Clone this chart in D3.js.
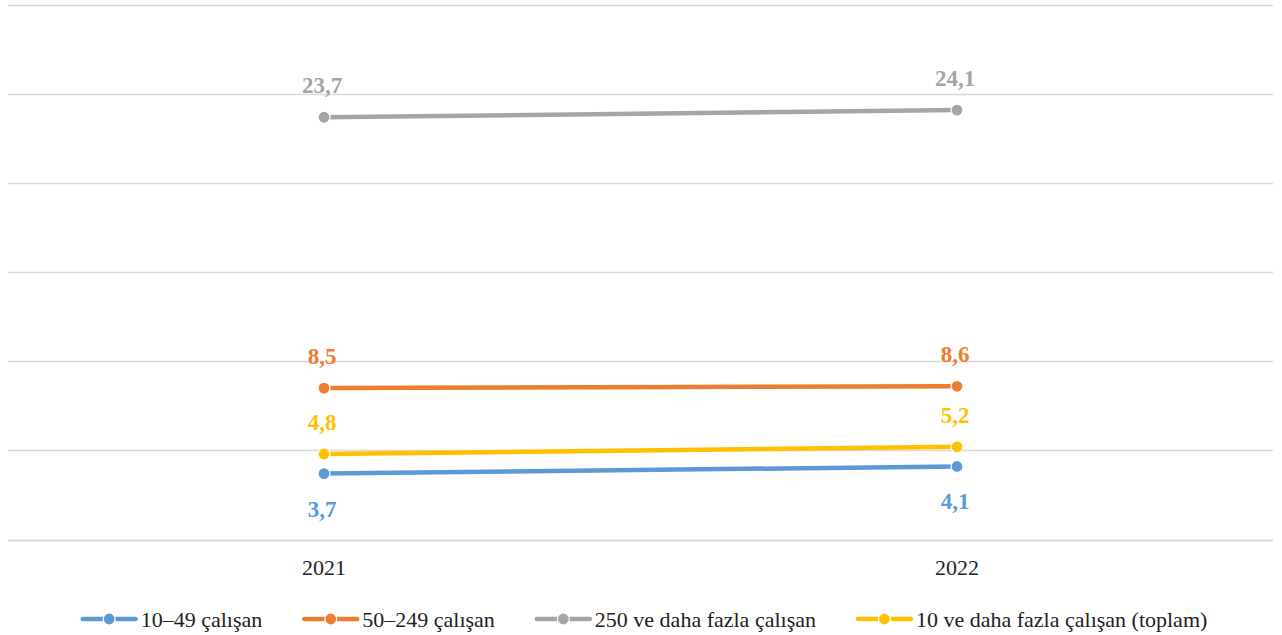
<!DOCTYPE html>
<html>
<head>
<meta charset="utf-8">
<script src="https://cdn.jsdelivr.net/npm/d3@7"></script>
<style>
  body { margin: 0; background: #fff; }
</style>
</head>
<body>
<div id="chart"></div>
<script>
const years = ["2021", "2022"];
const seriesNames = ["10–49 çalışan", "50–249 çalışan", "250 ve daha fazla çalışan", "10 ve daha fazla çalışan (toplam)"];
const small = [3.7, 4.1];
const medium = [8.5, 8.6];
const large = [23.7, 24.1];
const total = [4.8, 5.2];
const yTicks = [0, 5, 10, 15, 20, 25, 30];

const colors = ["#5B9BD5", "#ED7D31", "#A5A5A5", "#FFC000"];
const labelPos = ["below", "above", "above", "above"];

const series = [small, medium, large, total].map((vals, i) => ({
    name: seriesNames[i], values: vals, color: colors[i], pos: labelPos[i]
}));

const W = 1282, H = 635;
const svg = d3.select("#chart").append("svg")
    .attr("width", W).attr("height", H)
    .attr("font-family", "'Liberation Serif', 'Times New Roman', 'DejaVu Serif', serif");

const x = d3.scalePoint().domain(years).range([324, 957]);
const y = d3.scaleLinear().domain([0, 30]).range([539.5, 5]);

// gridlines
svg.append("g")
    .selectAll("line")
    .data(yTicks)
    .enter().append("line")
    .attr("x1", 8).attr("x2", 1273)
    .attr("y1", d => Math.round(y(d)) + 0.5)
    .attr("y2", d => Math.round(y(d)) + 0.5)
    .attr("stroke", "#D9D9D9")
    .attr("stroke-width", d => d === 0 ? 2 : 1.6);

// x axis labels
svg.append("g")
    .selectAll("text")
    .data(years)
    .enter().append("text")
    .attr("x", d => x(d))
    .attr("y", 575)
    .attr("text-anchor", "middle")
    .attr("font-size", 22)
    .attr("fill", "#222")
    .text(d => d);

const line = d3.line()
    .x((d, i) => x(years[i]))
    .y(d => y(d));

const drawOrder = [2, 1, 0, 3];
drawOrder.forEach(i => {
    const s = series[i];
    const g = svg.append("g");
    g.append("path")
        .datum(s.values)
        .attr("d", line)
        .attr("fill", "none")
        .attr("stroke", s.color)
        .attr("stroke-width", 4.5);
    g.selectAll("circle")
        .data(s.values)
        .enter().append("circle")
        .attr("cx", (d, j) => x(years[j]))
        .attr("cy", d => y(d))
        .attr("r", 6)
        .attr("fill", s.color)
        .attr("stroke", "#fff")
        .attr("stroke-width", 1.2);
    g.selectAll("text")
        .data(s.values)
        .enter().append("text")
        .attr("x", (d, j) => x(years[j]) - 2)
        .attr("y", d => s.pos === "above" ? y(d) - 24 : y(d) + 43)
        .attr("text-anchor", "middle")
        .attr("font-size", 23)
        .attr("font-weight", "bold")
        .attr("fill", s.color)
        .text(d => String(d).replace(".", ","));
});

// legend
const legend = svg.append("g");
const gap = 42;
let lx = 0;
series.forEach(s => {
    const item = legend.append("g").attr("transform", `translate(${lx},0)`);
    item.append("line")
        .attr("x1", 0).attr("x2", 53)
        .attr("y1", 619).attr("y2", 619)
        .attr("stroke", s.color).attr("stroke-width", 4.5)
        .attr("stroke-linecap", "round");
    item.append("circle")
        .attr("cx", 26.5).attr("cy", 619).attr("r", 6)
        .attr("fill", s.color).attr("stroke", "#fff").attr("stroke-width", 1.2);
    const t = item.append("text")
        .attr("x", 58).attr("y", 626.5)
        .attr("font-size", 22)
        .attr("fill", "#222")
        .text(s.name);
    lx += 58 + t.node().getComputedTextLength() + gap;
});
const legendWidth = lx - gap;
legend.attr("transform", `translate(${(W - legendWidth) / 2 + 4},0)`);
</script>
</body>
</html>
